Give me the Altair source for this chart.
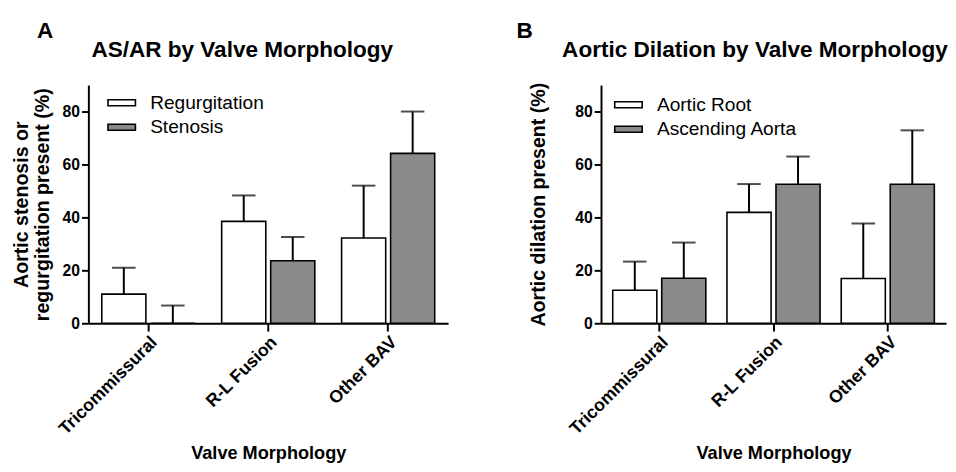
import altair as alt
import pandas as pd

categories = ["Tricommissural", "R-L Fusion", "Other BAV"]

a_series = ["Regurgitation", "Stenosis"]
a_regurg = [11.0, 38.5, 32.2]
a_regurg_err = [21.0, 48.3, 52.0]
a_sten = [0.0, 23.6, 64.2]
a_sten_err = [6.7, 32.6, 80.0]

b_series = ["Aortic Root", "Ascending Aorta"]
b_root = [12.5, 41.9, 16.9]
b_root_err = [23.3, 52.6, 37.7]
b_asc = [17.0, 52.5, 52.5]
b_asc_err = [30.5, 63.0, 72.9]

FONT = "Liberation Sans"
GRAY = "#8a8a8a"
BAR_W = 45
SHIFT = [-25, 25]


def build_df(series, v1, e1, v2, e2):
    rows = []
    for i, c in enumerate(categories):
        rows.append({"cat": c, "series": series[0], "value": v1[i], "err": e1[i]})
        rows.append({"cat": c, "series": series[1], "value": v2[i], "err": e2[i]})
    return pd.DataFrame(rows)


def panel(df, series, ytitle, title, letter, width, pad_outer,
          ytitle_x, legend_x, legend_y, letter_x, title_x):
    xscale = alt.Scale(type="band", domain=categories,
                       paddingInner=0.22, paddingOuter=pad_outer)
    xenc = alt.X(
        "cat:N", scale=xscale,
        axis=alt.Axis(
            title="Valve Morphology", labelAngle=-45, labelFontSize=18,
            labelFontWeight="bold", labelColor="black", labelFont=FONT,
            tickSize=8, tickWidth=2, tickColor="black", domainWidth=2,
            domainColor="black", titleFontSize=18.5, titleFontWeight="bold",
            titleFont=FONT, titleColor="black", titleY=123, titleBaseline="top",
            labelPadding=2,
        ),
    )
    xplain = alt.X("cat:N", scale=xscale)
    yenc = alt.Y(
        "value:Q", scale=alt.Scale(domain=[0, 90], nice=False),
        axis=alt.Axis(
            title=ytitle, values=[0, 20, 40, 60, 80], grid=False,
            labelFontSize=16, labelFontWeight="bold", labelColor="black",
            labelFont=FONT, tickSize=7, tickWidth=2, tickColor="black",
            domainWidth=2, domainColor="black", titleFontSize=20,
            titleFontWeight="bold", titleFont=FONT, titleColor="black",
            titleX=ytitle_x, titleLineHeight=21, labelPadding=2,
        ),
    )
    fill = alt.Fill(
        "series:N",
        scale=alt.Scale(domain=series, range=["white", GRAY]),
        legend=alt.Legend(
            title=None, orient="none", legendX=legend_x, legendY=legend_y,
            symbolType="M-1,-0.22H1V0.22H-1Z", symbolSize=784,
            symbolStrokeColor="black", symbolStrokeWidth=1.6,
            labelFontSize=19.5, labelFont=FONT, labelColor="black",
            labelOffset=14, rowPadding=0, padding=0,
        ),
    )
    layers = []
    for s, off in zip(series, SHIFT):
        sub = alt.Chart(df).transform_filter(alt.datum.series == s)
        layers.append(sub.mark_bar(stroke="black", strokeWidth=1.6,
                                   width=BAR_W, xOffset=off).encode(
            x=xenc, y=yenc, fill=fill))
        layers.append(sub.mark_rule(color="black", strokeWidth=2, xOffset=off).encode(
            x=xplain, y=alt.Y("value:Q"), y2="err:Q"))
        layers.append(sub.mark_tick(color="black", thickness=2, size=24,
                                    xOffset=off).encode(
            x=xplain, y=alt.Y("err:Q")))
    lab = alt.Chart(pd.DataFrame({"t": [letter]})).mark_text(
        fontSize=23, fontWeight="bold", font=FONT, color="black",
        align="center", baseline="alphabetic",
    ).encode(text="t:N", x=alt.value(letter_x), y=alt.value(-48))
    ttl = alt.Chart(pd.DataFrame({"t": [title]})).mark_text(
        fontSize=23, fontWeight="bold", font=FONT, color="black",
        align="center", baseline="alphabetic",
    ).encode(text="t:N", x=alt.value(title_x), y=alt.value(-29))
    layers += [lab, ttl]
    return alt.layer(*layers).properties(width=width, height=243)


df_a = build_df(a_series, a_regurg, a_regurg_err, a_sten, a_sten_err)
df_b = build_df(b_series, b_root, b_root_err, b_asc, b_asc_err)

pa = panel(df_a, a_series, ["Aortic stenosis or", "regurgitation present (%)"],
           "AS/AR by Valve Morphology", "A", 367, 0.11, -58, 19, 3, -44, 157)
pb = panel(df_b, b_series, "Aortic dilation present (%)",
           "Aortic Dilation by Valve Morphology", "B", 352, 0.12, -54, 13, 5, -78, 157)

chart = alt.hconcat(pa, pb, spacing=69).resolve_scale(fill="independent").configure_view(
    stroke=None
).properties(padding={"left": 3, "top": 8, "right": 0, "bottom": 0})

chart.save("out.html", embed_options={"renderer": "svg", "actions": False})
